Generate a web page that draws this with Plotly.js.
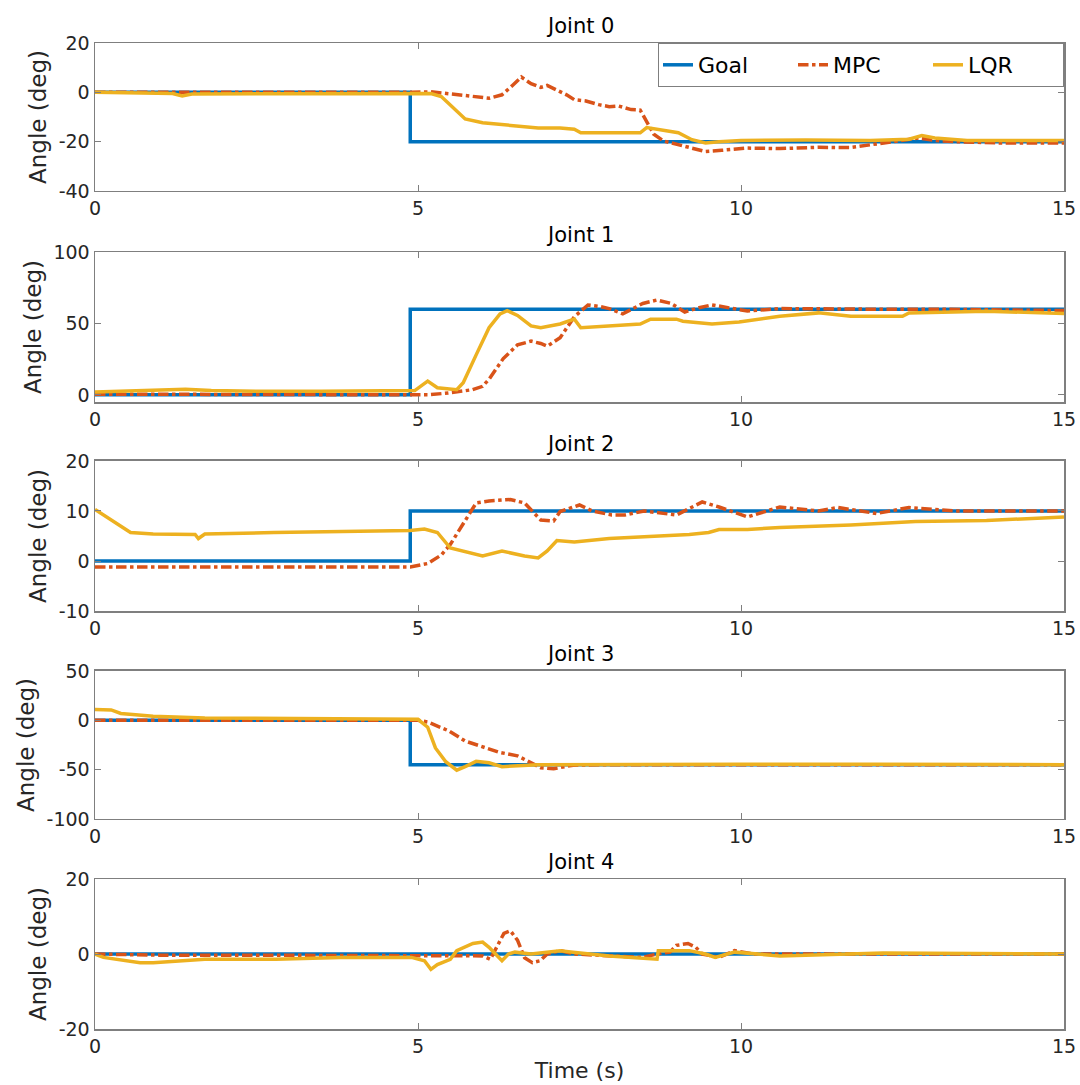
<!DOCTYPE html>
<html>
<head>
<meta charset="utf-8">
<script src="https://cdn.plot.ly/plotly-3.0.1.min.js"></script>
<style>html,body{margin:0;padding:0;background:#fff;}#chart{width:1080px;height:1085px;}</style>
</head>
<body>
<div id="chart"></div>
<script>
// ---------- DATA ----------
const jointTitles = ["Joint 0", "Joint 1", "Joint 2", "Joint 3", "Joint 4"];
const seriesNames = ["Goal", "MPC", "LQR"];
const xTickVals = [0, 5, 10, 15];

const goalT = [0, 4.88, 4.88, 15];
const j0Goal = [0, 0, -20, -20];
const j1Goal = [0, 0, 60, 60];
const j2Goal = [0, 0, 10, 10];
const j3Goal = [0, 0, -45, -45];
const j4Goal = [0, 0, 0, 0];

// Joint 0
const j0MpcT = [0, 1, 2, 3, 4, 4.9, 5.2, 5.5, 5.8, 6.1, 6.3, 6.45, 6.6, 6.75, 6.9, 7.0, 7.15, 7.3, 7.42, 7.6, 7.8, 7.96, 8.1, 8.3, 8.44, 8.5, 8.65, 8.8, 9.0, 9.18, 9.45, 9.7, 10.1, 10.6, 11.2, 11.7, 12.2, 12.5, 12.75, 13.0, 13.3, 14.0, 15];
const j0Mpc  = [0, 0, -0.3, 0, 0, 0, 0.2, -0.5, -1.5, -2.4, -1, 2.5, 6.2, 3.5, 2, 2.8, 1, -1, -3, -3.5, -5, -5.8, -5.5, -7, -7.2, -10, -17, -19.7, -21, -22, -24, -23.5, -22.6, -22.8, -22.3, -22.4, -20.5, -19.5, -18.5, -19.5, -20, -20.5, -20.5];
const j0LqrT = [0, 0.5, 1.2, 1.35, 1.5, 2.5, 3.5, 4.5, 5.0, 5.2, 5.36, 5.5, 5.73, 6.0, 6.3, 6.54, 6.86, 7.2, 7.42, 7.52, 8.0, 8.44, 8.54, 8.7, 9.03, 9.24, 9.45, 9.66, 10.0, 11.0, 12.0, 12.6, 12.8, 13.0, 13.5, 14.0, 15];
const j0Lqr  = [0, -0.3, -0.5, -1.5, -0.7, -0.6, -0.6, -0.5, -0.3, -0.5, -1.7, -5, -10.8, -12.3, -13, -13.5, -14.5, -14.5, -15, -16.4, -16.5, -16.4, -14.3, -15, -16.4, -19.2, -20.5, -20, -19.5, -19.3, -19.5, -19, -17.5, -18.5, -19.5, -19.5, -19.5];

// Joint 1
const j1MpcT = [0, 1, 2, 3, 4, 5.0, 5.15, 5.47, 5.84, 6.0, 6.1, 6.32, 6.54, 6.75, 6.9, 7.0, 7.2, 7.42, 7.63, 7.8, 7.96, 8.17, 8.48, 8.7, 8.92, 9.13, 9.35, 9.55, 9.87, 10.1, 10.6, 11.2, 12, 13, 14, 15];
const j1Mpc  = [0.5, 0.5, 0.5, 0.5, 0.5, 0.5, 0, 1.3, 3.6, 6, 11, 25.4, 35, 37.6, 36, 34, 40, 54.7, 62.9, 62, 60.4, 56.7, 64, 66.4, 64, 58, 61, 63, 60.4, 58.7, 60.4, 60, 60, 60, 59.5, 59];
const j1LqrT = [0, 0.5, 1.0, 1.4, 1.8, 2.5, 3.5, 4.5, 4.95, 5.15, 5.3, 5.6, 5.7, 5.9, 6.1, 6.27, 6.38, 6.54, 6.75, 6.9, 7.2, 7.42, 7.52, 8.44, 8.6, 9.0, 9.1, 9.55, 9.97, 10.6, 11.2, 11.7, 12.5, 12.6, 13.8, 15];
const j1Lqr  = [2, 2.5, 3, 4, 3, 2.5, 2.5, 2.5, 3, 9.6, 5, 3.6, 8.5, 28, 47, 56.7, 59, 55.6, 48.3, 47, 49.6, 53, 47, 49.6, 53, 53, 51.6, 49.6, 51, 55, 57.4, 55, 55, 57.4, 58.5, 57];

// Joint 2
const j2MpcT = [0, 1, 2, 3, 4, 4.88, 5.15, 5.36, 5.5, 5.7, 5.9, 6.1, 6.43, 6.65, 6.9, 7.1, 7.2, 7.5, 7.7, 8.0, 8.2, 8.5, 9.0, 9.4, 9.66, 10.1, 10.6, 11.2, 11.5, 12.1, 12.6, 13.3, 14, 15];
const j2Mpc  = [-1.2, -1.2, -1.2, -1.2, -1.2, -1.2, -0.5, 1.2, 3.3, 7.4, 11.6, 12, 12.3, 11.6, 8.2, 8, 9.9, 11.2, 10, 9.2, 9.2, 10, 9.2, 11.8, 10.8, 8.8, 10.8, 10, 10.7, 9.5, 10.7, 10, 10, 10];
const j2LqrT = [0, 0.13, 0.3, 0.55, 0.9, 1.55, 1.6, 1.7, 2.77, 4.0, 4.88, 5.1, 5.3, 5.5, 5.7, 6.0, 6.3, 6.65, 6.86, 7.0, 7.15, 7.42, 7.96, 8.48, 9.2, 9.5, 9.66, 10.1, 10.6, 11.7, 12.7, 13.8, 15];
const j2Lqr  = [10.3, 9.2, 7.8, 5.7, 5.4, 5.3, 4.5, 5.4, 5.7, 5.9, 6.1, 6.4, 5.7, 2.6, 2, 1, 2, 1, 0.6, 2, 4.1, 3.8, 4.5, 4.8, 5.3, 5.7, 6.3, 6.3, 6.7, 7.2, 7.9, 8.1, 8.8];

// Joint 3
const j3MpcT = [0, 1, 2, 3, 4, 5.0, 5.15, 5.47, 5.73, 6.0, 6.26, 6.54, 6.7, 6.9, 7.1, 7.4, 7.8, 9, 11, 13, 15];
const j3Mpc  = [0, 0, 0, 0, 0, 0, -1.7, -10.5, -21, -27, -32.5, -36, -41, -48, -49, -45.5, -45, -45, -45, -45, -45];
const j3LqrT = [0, 0.25, 0.4, 0.9, 1.7, 3.8, 5.0, 5.15, 5.27, 5.43, 5.6, 5.73, 5.9, 6.1, 6.3, 6.86, 8, 10, 12, 15];
const j3Lqr  = [11, 10.5, 7, 4.2, 2.4, 1.7, 1, -7, -28, -42, -50.5, -47, -41.6, -43, -47, -45, -44.5, -44.5, -44.5, -45];

// Joint 4
const j4MpcT = [0, 1, 2, 3, 4, 5, 5.5, 6.0, 6.12, 6.22, 6.33, 6.43, 6.54, 6.65, 6.77, 6.89, 7.0, 7.2, 7.42, 8.0, 8.48, 8.7, 8.9, 9.0, 9.18, 9.3, 9.4, 9.66, 9.9, 10.2, 11, 12, 13, 14, 15];
const j4Mpc  = [0, -0.3, -0.3, -0.3, -0.3, -0.3, -0.3, -0.5, -1.4, 1.8, 5.5, 6.2, 3.7, -1, -2.3, -1.8, 0, 0.9, 0, -0.5, -0.9, 0, 0.5, 2.3, 2.8, 1.8, 0, -0.9, 0.9, 0, 0, 0.2, 0, 0, 0];
const j4LqrT = [0, 0.13, 0.7, 0.9, 1.7, 2.8, 3.8, 4.9, 5.1, 5.2, 5.3, 5.5, 5.6, 5.85, 6.0, 6.1, 6.2, 6.3, 6.4, 6.5, 6.75, 7.2, 7.4, 7.96, 8.7, 8.72, 9.2, 9.45, 9.6, 9.9, 10.6, 12.2, 15];
const j4Lqr  = [0, -0.9, -2.3, -2.3, -1.4, -1.4, -0.9, -0.9, -1.8, -4.1, -2.8, -1.4, 0.9, 2.8, 3.2, 1.8, 0, -1.8, 0, 0.5, 0, 0.9, 0.5, -0.5, -1.4, 0.9, 0.9, 0, -0.9, 0.5, -0.5, 0.3, 0];

const yRanges = [[-40, 20], [-5, 100], [-10, 20], [-100, 50], [-20, 20]];
const yTickVals = [[-40, -20, 0, 20], [0, 50, 100], [-10, 0, 10, 20], [-100, -50, 0, 50], [-20, 0, 20]];

// ---------- STYLE ----------
const colors = ["#0072BD", "#D95319", "#EDB120"];
const dashes = ["solid", "dashdot", "solid"];
const FONT = "DejaVu Sans, Arial, sans-serif";
const TXT = "#262626";
const AXC = "#7f7f7f";

const joints = [
  {goal: j0Goal, mt: j0MpcT, m: j0Mpc, lt: j0LqrT, l: j0Lqr},
  {goal: j1Goal, mt: j1MpcT, m: j1Mpc, lt: j1LqrT, l: j1Lqr},
  {goal: j2Goal, mt: j2MpcT, m: j2Mpc, lt: j2LqrT, l: j2Lqr},
  {goal: j3Goal, mt: j3MpcT, m: j3Mpc, lt: j3LqrT, l: j3Lqr},
  {goal: j4Goal, mt: j4MpcT, m: j4Mpc, lt: j4LqrT, l: j4Lqr}
];

// domains (paper fractions)
const domains = [[0.8499, 1.0], [0.6359, 0.7880], [0.4239, 0.5761], [0.2130, 0.3631], [0.0, 0.1521]];

const traces = [];
const layout = {
  width: 1080, height: 1085,
  margin: {l: 95, r: 16, t: 43, b: 56},
  paper_bgcolor: "#ffffff", plot_bgcolor: "#ffffff",
  font: {family: FONT, color: TXT, size: 18},
  showlegend: true,
  legend: {
    orientation: "h", x: 1, xanchor: "right", y: 1, yanchor: "top",
    bgcolor: "#ffffff", bordercolor: AXC, borderwidth: 1,
    font: {family: FONT, size: 22, color: "#000"},
    entrywidth: 90, entrywidthmode: "pixels", tracegroupgap: 0
  },
  annotations: []
};

joints.forEach((j, i) => {
  const xa = i === 0 ? "x" : "x" + (i + 1);
  const ya = i === 0 ? "y" : "y" + (i + 1);
  const xs = [goalT, j.mt, j.lt];
  const ys = [j.goal, j.m, j.l];
  for (let s = 0; s < 3; s++) {
    traces.push({
      type: "scatter", mode: "lines",
      x: xs[s], y: ys[s], xaxis: xa, yaxis: ya,
      name: seriesNames[s], legendgroup: seriesNames[s],
      showlegend: i === 0,
      line: {color: colors[s], width: 3.5, dash: dashes[s], shape: "linear"},
      hoverinfo: "skip"
    });
  }
  const xkey = i === 0 ? "xaxis" : "xaxis" + (i + 1);
  const ykey = i === 0 ? "yaxis" : "yaxis" + (i + 1);
  layout[xkey] = {
    domain: [0, 1], anchor: ya, range: [0, 15],
    tickmode: "array", tickvals: xTickVals, ticktext: xTickVals.map(String),
    ticks: "inside", ticklen: 6, tickwidth: 1, tickcolor: AXC,
    showline: true, linecolor: AXC, linewidth: 1.5, mirror: "ticks",
    showgrid: false, zeroline: false,
    tickfont: {family: FONT, size: 19, color: TXT},
    fixedrange: true
  };
  if (i === 4) {
    layout[xkey].title = {text: "Time (s)", font: {family: FONT, size: 22, color: TXT}, standoff: 6};
  }
  layout[ykey] = {
    domain: domains[i], anchor: xa, range: yRanges[i],
    tickmode: "array", tickvals: yTickVals[i], ticktext: yTickVals[i].map(String),
    ticks: "inside", ticklen: 6, tickwidth: 1, tickcolor: AXC,
    showline: true, linecolor: AXC, linewidth: 1.5, mirror: "ticks",
    showgrid: false, zeroline: false,
    tickfont: {family: FONT, size: 19, color: TXT},
    title: {text: "Angle (deg)", font: {family: FONT, size: 23, color: TXT}, standoff: 5},
    fixedrange: true
  };
  layout.annotations.push({
    text: jointTitles[i], xref: "paper", yref: "paper",
    x: 0.5, y: domains[i][1], xanchor: "center", yanchor: "bottom", yshift: 3,
    showarrow: false, font: {family: FONT, size: 21, color: "#000"}
  });
});

Plotly.newPlot("chart", traces, layout, {displayModeBar: false, staticPlot: true});
</script>
</body>
</html>
